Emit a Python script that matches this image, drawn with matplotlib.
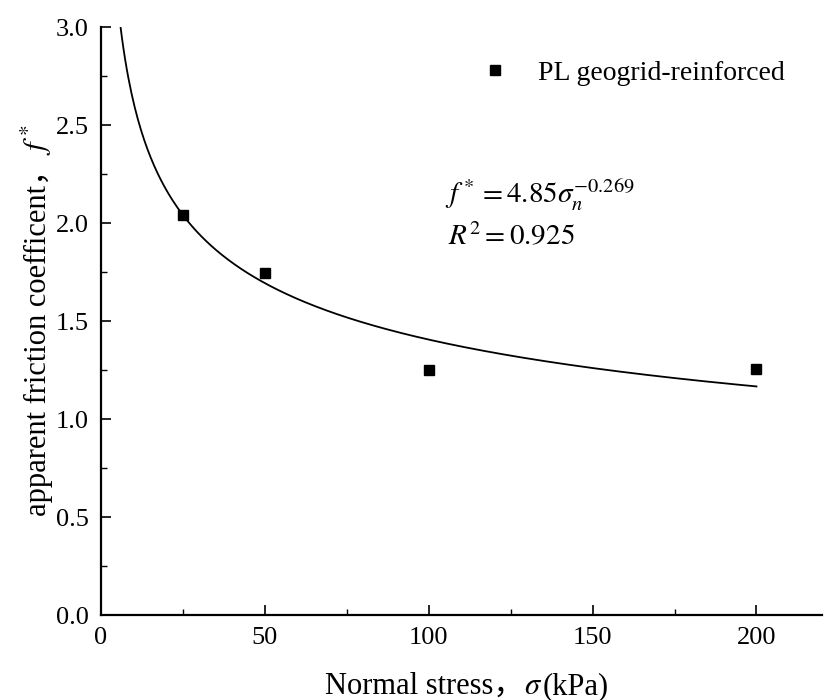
import matplotlib.pyplot as plt
import numpy as np

plt.rcParams['font.family'] = ['Liberation Serif', 'Noto Sans CJK SC']
plt.rcParams['mathtext.fontset'] = 'stix'

# measured points
stress = [25, 50, 100, 200]
friction = [2.04, 1.745, 1.25, 1.255]
# fit f* = a * sigma^b
a, b = 4.85, -0.269
xs = np.linspace(5.9, 200, 400)

W, H = 825, 700
fig = plt.figure(figsize=(W / 100, H / 100), dpi=100)
ax = fig.add_axes([101 / W, 85 / H, 721 / W, 588 / H])

ax.plot(xs, a * xs ** b, color='black', lw=1.3)
ax.plot(stress, friction, 's', color='black', ms=7, label='PL geogrid-reinforced')

ax.set_xlim(0, 220)
ax.set_ylim(0, 3.0)
ax.set_xticks([0, 50, 100, 150, 200])
ax.set_xticks([25, 75, 125, 175], minor=True)
ax.set_yticks(np.arange(0, 3.01, 0.5))
ax.set_yticks(np.arange(0.25, 3.0, 0.5), minor=True)
ax.yaxis.set_major_formatter(plt.FormatStrFormatter('%.1f'))
for s in ['top', 'right']:
    ax.spines[s].set_visible(False)
for s in ['left', 'bottom']:
    ax.spines[s].set_linewidth(1.6)
ax.tick_params(which='major', direction='in', length=7, width=1.2, labelsize=19, pad=9)
ax.tick_params(which='minor', direction='in', length=4, width=1.0)

ax.text(0.477, 0.70, r'$f^* = 4.85\sigma_n^{-0.269}$', transform=ax.transAxes, fontsize=21)
ax.text(0.481, 0.628, r'$R^2 = 0.925$', transform=ax.transAxes, fontsize=21)

ax.legend(loc='center left', frameon=False, fontsize=20, handlelength=1.0,
          handletextpad=1.05, borderpad=0, borderaxespad=0,
          bbox_to_anchor=(481 / W, 1 - 73 / H), bbox_transform=fig.transFigure)

# axis labels built from pieces so the full-width comma can fall back to CJK font
fig.canvas.draw()
r = fig.canvas.get_renderer()


def label_pieces(pieces, pos, center, vertical, size):
    texts = []
    for s in pieces:
        t = fig.text(0, 0, s, fontsize=size, rotation=90 if vertical else 0,
                     rotation_mode='anchor', ha='left', va='baseline')
        texts.append(t)
    lens = []
    for t in texts:
        bb = t.get_window_extent(r)
        lens.append(bb.height if vertical else bb.width)
    start = center - sum(lens) / 2
    for t, l in zip(texts, lens):
        if vertical:
            t.set_position((pos / W, start / H))
        else:
            t.set_position((start / W, pos / H))
        start += l


label_pieces(['Normal stress，', r'$\sigma$', '(kPa)'], 6, 467, False, 22)
label_pieces(['apparent friction coefficent，', r'$f^*$'], 46, H - 320, True, 22)

fig.savefig('out.png')
